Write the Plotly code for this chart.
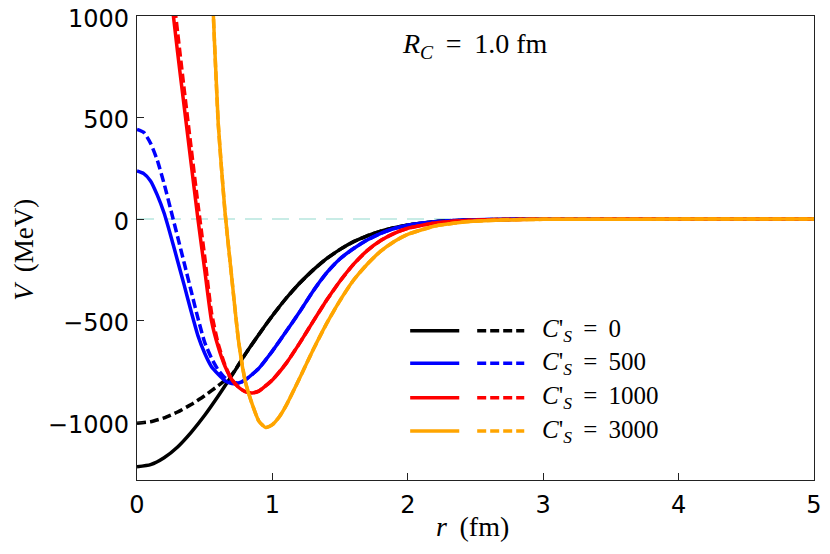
import plotly.graph_objects as go

# ---------------- data ----------------
r_black = [0.0, 0.1, 0.2, 0.3, 0.4, 0.5, 0.6, 0.7, 0.8, 0.9, 1.0, 1.1, 1.2, 1.3, 1.4,
           1.5, 1.6, 1.7, 1.8, 1.9, 2.0, 2.2, 2.4, 2.6, 2.8, 3.0, 3.5, 4.0, 4.5, 5.0]
v_black_solid = [-1220, -1209, -1175, -1122, -1050, -966, -871, -771, -665, -568, -476,
                 -391, -316, -251, -195, -149, -111, -82, -59, -42, -29, -13, -6, -2.5, -1,
                 -0.4, 0, 0, 0, 0]
v_black_dashed = [-1005, -998, -979, -950, -913, -870, -820, -766, -665, -568, -476,
                  -391, -316, -251, -195, -149, -111, -82, -59, -42, -29, -13, -6, -2.5, -1,
                  -0.4, 0, 0, 0, 0]

r_blue = [0.0, 0.05, 0.1, 0.15, 0.2, 0.25, 0.3, 0.35, 0.4, 0.45, 0.5, 0.55, 0.6, 0.65,
          0.7, 0.75, 0.8, 0.9, 1.0, 1.1, 1.2, 1.3, 1.4, 1.5, 1.6, 1.7, 1.8, 1.9, 2.0,
          2.2, 2.4, 2.6, 2.8, 3.0, 3.5, 4.0, 4.5, 5.0]
v_blue_solid = [237, 224, 188, 118, 30, -84, -206, -329, -455, -574, -661, -727, -764,
                -796, -810, -807, -792, -735, -650, -555, -458, -355, -265, -195, -145,
                -103, -70, -46, -30, -13, -5.5, -2.2, -0.9, -0.4, 0, 0, 0, 0]
v_blue_dashed = [442, 427, 374, 290, 175, 45, -87, -220, -354, -488, -607, -685, -744,
                 -782, -806, -806, -792, -735, -650, -555, -458, -355, -265, -195, -145,
                 -103, -70, -46, -30, -13, -5.5, -2.2, -0.9, -0.4, 0, 0, 0, 0]

r_red = [0.2, 0.25, 0.3, 0.35, 0.4, 0.45, 0.5, 0.55, 0.6, 0.65, 0.7, 0.75, 0.8, 0.85,
         0.9, 1.0, 1.1, 1.2, 1.3, 1.4, 1.5, 1.6, 1.7, 1.8, 1.9, 2.0, 2.2, 2.4, 2.6, 2.8,
         3.0, 3.5, 4.0, 4.5, 5.0]
v_red_solid = [1380, 1110, 820, 546, 273, 0, -250, -500, -630, -725, -790, -828, -850,
               -856, -847, -792, -712, -612, -505, -400, -305, -222, -155, -105, -70, -45,
               -19, -8, -3.2, -1.3, -0.5, 0, 0, 0, 0]
v_red_dashed = [1480, 1210, 920, 630, 350, 75, -185, -460, -615, -720, -790, -828, -850,
                -856, -847, -792, -712, -612, -505, -400, -305, -222, -155, -105, -70, -45,
                -19, -8, -3.2, -1.3, -0.5, 0, 0, 0, 0]

r_orange = [0.5, 0.55, 0.6, 0.65, 0.7, 0.75, 0.8, 0.85, 0.9, 0.95, 1.0, 1.05, 1.1, 1.2,
            1.3, 1.4, 1.5, 1.6, 1.7, 1.8, 1.9, 2.0, 2.2, 2.4, 2.6, 2.8, 3.0, 3.5, 4.0,
            4.5, 5.0]
v_orange_solid = [2200, 1230, 470, 35, -290, -600, -800, -910, -995, -1027, -1012, -975,
                  -920, -785, -645, -515, -400, -300, -222, -158, -110, -75, -34, -15, -6.5,
                  -2.8, -1.2, -0.2, 0, 0, 0]
v_orange_dashed = list(v_orange_solid)

cs_values = ["0", "500", "1000", "3000"]
colors = ["black", "blue", "red", "orange"]

x_ticks = [0, 1, 2, 3, 4, 5]
y_ticks = [-1000, -500, 0, 500, 1000]

# ---------------- figure ----------------
LW = 3.5
DASH = "9px,4px"
SMOOTH = 0.5
fig = go.Figure()

series = [
    (r_black, v_black_solid, v_black_dashed, colors[0]),
    (r_blue, v_blue_solid, v_blue_dashed, colors[1]),
    (r_red, v_red_solid, v_red_dashed, colors[2]),
    (r_orange, v_orange_solid, v_orange_dashed, colors[3]),
]
for rr, vs, vd, c in series:
    fig.add_trace(go.Scatter(x=rr, y=vs, mode="lines", showlegend=False,
                             line=dict(color=c, width=LW, shape="spline", smoothing=SMOOTH)))
    fig.add_trace(go.Scatter(x=rr, y=vd, mode="lines", showlegend=False,
                             line=dict(color=c, width=LW, dash=DASH, shape="spline",
                                       smoothing=SMOOTH)))

# zero reference line
fig.add_shape(type="line", xref="x", yref="y", x0=0, x1=5, y0=0, y1=0, layer="below",
              line=dict(color="rgb(200,236,230)", width=2, dash="17px,10px"))

SERIF = "Liberation Serif"
NB = "&nbsp;"
TH = "\u2009"

# custom legend: solid sample, dashed sample, label
row_y = [0.3218, 0.2515, 0.1774, 0.1056]
for yy, c, cs in zip(row_y, colors, cs_values):
    fig.add_shape(type="line", xref="paper", yref="paper", x0=0.4035, x1=0.476,
                  y0=yy, y1=yy, line=dict(color=c, width=LW))
    fig.add_shape(type="line", xref="paper", yref="paper", x0=0.5025, x1=0.572,
                  y0=yy, y1=yy, line=dict(color=c, width=LW, dash=DASH))
    fig.add_annotation(xref="paper", yref="paper", x=0.5955, y=yy, xanchor="left",
                       yanchor="middle", showarrow=False,
                       text="<i>C</i>'<sub><i>S</i></sub>" + NB + TH + "=" + NB + TH + cs,
                       font=dict(family=SERIF, size=25, color="black"))

fig.add_annotation(xref="paper", yref="paper", x=0.499, y=0.9375, showarrow=False,
                   xanchor="center", yanchor="middle",
                   text="<i>R</i><sub><i>C</i></sub>" + NB + TH + "=" + NB + TH
                        + "1.0" + NB + "fm",
                   font=dict(family=SERIF, size=28, color="black"))

# axis titles
fig.add_annotation(xref="paper", yref="paper", x=0.496, y=-0.1, showarrow=False,
                   xanchor="center", yanchor="middle", text="<i>r</i>" + NB + TH + "(fm)",
                   font=dict(family=SERIF, size=28, color="black"))
fig.add_annotation(xref="paper", yref="paper", x=-0.167, y=0.496, showarrow=False,
                   xanchor="center", yanchor="middle", textangle=-90,
                   text="<i>V</i>" + NB + TH + "(MeV)",
                   font=dict(family=SERIF, size=27, color="black"))

axis_common = dict(showline=True, linecolor="#222", linewidth=1.4, mirror=True,
                   ticks="inside", ticklen=7, tickwidth=1.3, tickcolor="#222",
                   showgrid=False, zeroline=False, automargin=False,
                   ticklabeloverflow="allow",
                   tickfont=dict(family="DejaVu Sans", size=24, color="black"))
fig.update_xaxes(range=[0, 5], tickvals=x_ticks, ticklabelstandoff=3, **axis_common)
fig.update_yaxes(range=[-1285, 1000.5], tickvals=y_ticks, ticklabelstandoff=2,
                 ticklabelshift=2, **axis_common)

# the page adds an 8px body margin, so the figure is sized/margined to compensate
fig.update_layout(width=814, height=538, margin=dict(l=129, r=8, t=8, b=66),
                  plot_bgcolor="white", paper_bgcolor="white", showlegend=False)

fig.write_html("out.html")
